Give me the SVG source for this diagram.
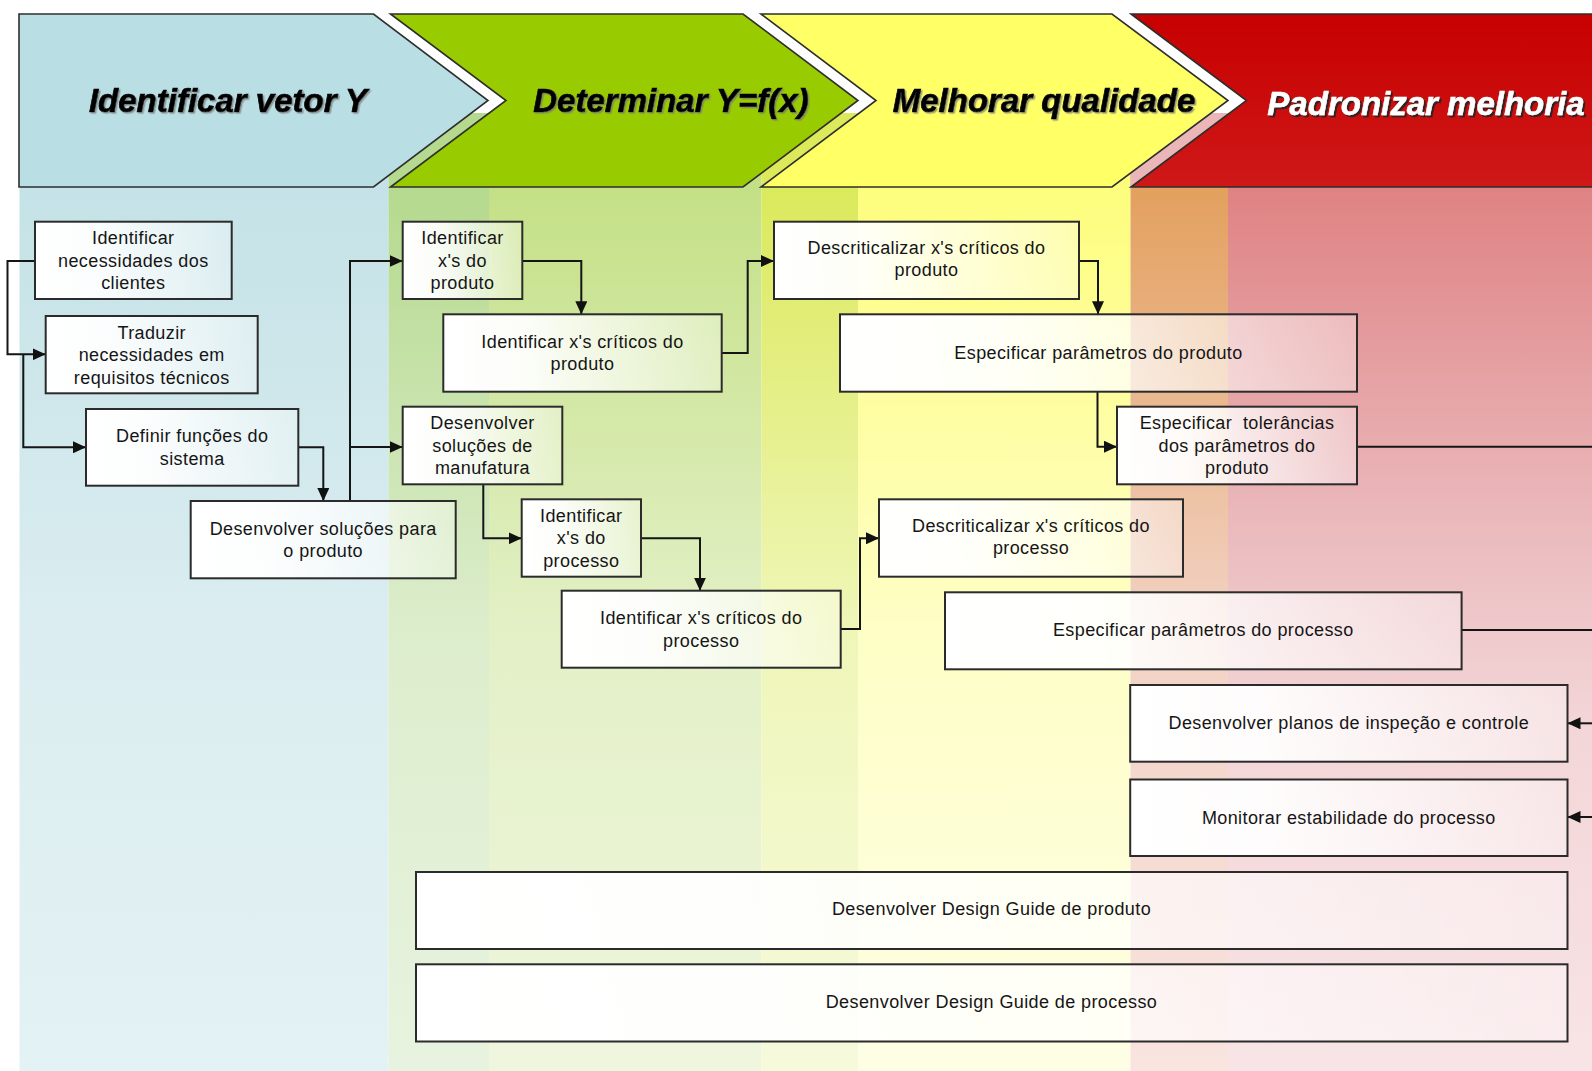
<svg xmlns="http://www.w3.org/2000/svg" width="1592" height="1071" viewBox="0 0 1592 1071">
  <style>
    .node rect { fill: url(#nodeFill); stroke: #2b2b2b; stroke-width: 2; }
    .node text { font-family: "Liberation Sans", Arial, sans-serif; font-size: 18px; letter-spacing: 0.4px; fill: #151515; text-anchor: middle; }
    .conn path { fill: none; stroke: #151515; stroke-width: 2; }
    .arrow { marker-end: url(#arrowHead); }
    .hdr polygon { stroke: #2e2e2e; stroke-width: 1.6; stroke-linejoin: miter; }
    .hdr text { font-family: "Liberation Sans", Arial, sans-serif; font-weight: bold; font-style: italic; font-size: 33px; text-anchor: middle; }
    .dark { fill: #000; stroke: #000; stroke-width: 0.7; filter: url(#lightShadow); }
    .light { fill: #fff; stroke: #fff; stroke-width: 0.5; filter: url(#darkShadow); }
  </style>
  <defs>
    <marker id="arrowHead" markerUnits="userSpaceOnUse" markerWidth="13" markerHeight="12" refX="13" refY="6" orient="auto">
      <path d="M0,0 L13,6 L0,12 z" fill="#111"/>
    </marker>
    <linearGradient id="nodeFill" x1="0" y1="0" x2="1" y2="0">
      <stop offset="0" stop-color="#fff" stop-opacity="1"/>
      <stop offset="0.3" stop-color="#fff" stop-opacity="0.93"/>
      <stop offset="1" stop-color="#fff" stop-opacity="0.35"/>
    </linearGradient>
    <!-- lane background fades, top to bottom -->
    <linearGradient id="laneBlue" gradientUnits="userSpaceOnUse" x1="0" y1="186" x2="0" y2="1071">
      <stop offset="0" stop-color="#c4e2e7"/>
      <stop offset="0.5" stop-color="#dbedf0"/>
      <stop offset="1" stop-color="#e3f2f4"/>
    </linearGradient>
    <linearGradient id="laneGreenA" gradientUnits="userSpaceOnUse" x1="0" y1="186" x2="0" y2="1071">
      <stop offset="0" stop-color="#b5d98e"/>
      <stop offset="0.5" stop-color="#dcedcc"/>
      <stop offset="1" stop-color="#e8f3df"/>
    </linearGradient>
    <linearGradient id="laneGreenB" gradientUnits="userSpaceOnUse" x1="0" y1="186" x2="0" y2="1071">
      <stop offset="0" stop-color="#c4e086"/>
      <stop offset="0.5" stop-color="#e3f0c6"/>
      <stop offset="1" stop-color="#eff6de"/>
    </linearGradient>
    <linearGradient id="laneYellowA" gradientUnits="userSpaceOnUse" x1="0" y1="186" x2="0" y2="1071">
      <stop offset="0" stop-color="#dbe95b"/>
      <stop offset="0.5" stop-color="#eff6b8"/>
      <stop offset="1" stop-color="#f6fadc"/>
    </linearGradient>
    <linearGradient id="laneYellowB" gradientUnits="userSpaceOnUse" x1="0" y1="186" x2="0" y2="1071">
      <stop offset="0" stop-color="#fdfd7d"/>
      <stop offset="0.5" stop-color="#fefec6"/>
      <stop offset="1" stop-color="#fefee5"/>
    </linearGradient>
    <linearGradient id="laneRedA" gradientUnits="userSpaceOnUse" x1="0" y1="186" x2="0" y2="1071">
      <stop offset="0" stop-color="#e3a05e"/>
      <stop offset="0.5" stop-color="#f2d2c4"/>
      <stop offset="1" stop-color="#f9e4e0"/>
    </linearGradient>
    <linearGradient id="laneRedB" gradientUnits="userSpaceOnUse" x1="0" y1="186" x2="0" y2="1071">
      <stop offset="0" stop-color="#df8283"/>
      <stop offset="0.4" stop-color="#ebbcbf"/>
      <stop offset="0.6" stop-color="#f3d5d7"/>
      <stop offset="1" stop-color="#f8e4e6"/>
    </linearGradient>
    <linearGradient id="redHead" x1="0" y1="0" x2="0" y2="1">
      <stop offset="0" stop-color="#c70000"/>
      <stop offset="1" stop-color="#cf1818"/>
    </linearGradient>
    <filter id="lightShadow" x="-5%" y="-20%" width="110%" height="140%">
      <feDropShadow dx="1.5" dy="1.5" stdDeviation="0.6" flood-color="#777" flood-opacity="0.7"/>
    </filter>
    <filter id="darkShadow" x="-5%" y="-20%" width="110%" height="140%">
      <feDropShadow dx="2" dy="2" stdDeviation="0.6" flood-color="#222" flood-opacity="0.9"/>
    </filter>
  </defs>

  <rect width="1592" height="1071" fill="#fff"/>

  <!-- phase lanes -->
  <g id="lanes">
    <rect x="19.5" y="113" width="369" height="958" fill="url(#laneBlue)"/>
    <rect x="388.5" y="113" width="100.5" height="958" fill="url(#laneGreenA)"/>
    <rect x="489" y="113" width="272.5" height="958" fill="url(#laneGreenB)"/>
    <rect x="761.5" y="113" width="96.5" height="958" fill="url(#laneYellowA)"/>
    <rect x="858" y="113" width="272.5" height="958" fill="url(#laneYellowB)"/>
    <rect x="1130.5" y="113" width="97.5" height="958" fill="url(#laneRedA)"/>
    <rect x="1228" y="113" width="364" height="958" fill="url(#laneRedB)"/>
    <!-- paler band seen between the header arrows -->
    <rect x="1130.5" y="113" width="120" height="74" fill="#ebb6b7"/>
  </g>

  <!-- phase header arrows -->
  <g id="header" class="hdr">
    <g id="phase-1">
      <polygon points="19,14 373.5,14 488,100.5 373.5,187 19,187" fill="#b9dfe4"/>
      <text class="dark" x="228" y="112">Identificar vetor Y</text>
    </g>
    <g id="phase-2">
      <polygon points="390.5,14 743,14 858,100.5 743,187 390.5,187 506,100.5" fill="#99cc00"/>
      <text class="dark" x="671" y="112">Determinar Y=f(x)</text>
    </g>
    <g id="phase-3">
      <polygon points="761,14 1112,14 1228,100.5 1112,187 761,187 876,100.5" fill="#ffff66"/>
      <text class="dark" x="1044" y="112">Melhorar qualidade</text>
    </g>
    <g id="phase-4">
      <polygon points="1131,14 1600,14 1600,187 1131,187 1246.5,100.5" fill="url(#redHead)"/>
      <text class="light" x="1426" y="115">Padronizar melhoria</text>
    </g>
  </g>

  <!-- connectors -->
  <g id="connectors" class="conn">
    <path class="arrow" d="M35,261 H7.5 V354.3 H45.7"/>
    <path class="arrow" d="M23.3,354.3 V447.3 H86"/>
    <path class="arrow" d="M298.3,447.3 H323.3 V501"/>
    <path class="arrow" d="M350,501 V261 H402.7"/>
    <path class="arrow" d="M350,447 H402.7"/>
    <path class="arrow" d="M522.3,261 H581.3 V314.3"/>
    <path class="arrow" d="M721.7,353 H747.7 V261 H774"/>
    <path class="arrow" d="M483.3,484.3 V538.3 H521.7"/>
    <path class="arrow" d="M641,538.3 H700 V590.7"/>
    <path class="arrow" d="M840.7,629 H860 V538.3 H879"/>
    <path class="arrow" d="M1079,261 H1098 V314.3"/>
    <path class="arrow" d="M1097.5,391.7 V446.7 H1117"/>
    <path d="M1357,446.7 H1592"/>
    <path d="M1461.6,630 H1592"/>
    <path class="arrow" d="M1592,723.3 H1567.5"/>
    <path class="arrow" d="M1592,817 H1567.5"/>
  </g>

  <!-- activities -->
  <g id="n-identificar-necessidades" class="node">
    <rect x="35" y="221.7" width="196.7" height="77.3"/>
    <text x="133.3" y="244.2">Identificar</text>
    <text x="133.3" y="266.7">necessidades dos</text>
    <text x="133.3" y="289.2">clientes</text>
  </g>
  <g id="n-traduzir" class="node">
    <rect x="45.7" y="316" width="212" height="77.3"/>
    <text x="151.7" y="338.5">Traduzir</text>
    <text x="151.7" y="361">necessidades em</text>
    <text x="151.7" y="383.5">requisitos técnicos</text>
  </g>
  <g id="n-definir-funcoes" class="node">
    <rect x="86" y="409" width="212.3" height="76.7"/>
    <text x="192.2" y="442.3">Definir funções do</text>
    <text x="192.2" y="464.8">sistema</text>
  </g>
  <g id="n-solucoes-produto" class="node">
    <rect x="190.7" y="501" width="265" height="77.3"/>
    <text x="323.2" y="534.7">Desenvolver soluções para</text>
    <text x="323.2" y="557.2">o produto</text>
  </g>
  <g id="n-xs-produto" class="node">
    <rect x="402.7" y="221.7" width="119.6" height="77.3"/>
    <text x="462.5" y="244.2">Identificar</text>
    <text x="462.5" y="266.7">x's do</text>
    <text x="462.5" y="289.2">produto</text>
  </g>
  <g id="n-xs-criticos-produto" class="node">
    <rect x="443.3" y="314.3" width="278.4" height="77.4"/>
    <text x="582.5" y="347.5">Identificar x's críticos do</text>
    <text x="582.5" y="370">produto</text>
  </g>
  <g id="n-solucoes-manufatura" class="node">
    <rect x="402.7" y="406.7" width="159.6" height="77.6"/>
    <text x="482.5" y="429">Desenvolver</text>
    <text x="482.5" y="451.5">soluções de</text>
    <text x="482.5" y="474">manufatura</text>
  </g>
  <g id="n-xs-processo" class="node">
    <rect x="521.7" y="499.3" width="119.3" height="77.4"/>
    <text x="581.3" y="521.5">Identificar</text>
    <text x="581.3" y="544">x's do</text>
    <text x="581.3" y="566.5">processo</text>
  </g>
  <g id="n-xs-criticos-processo" class="node">
    <rect x="561.7" y="590.7" width="279" height="77"/>
    <text x="701.2" y="624.2">Identificar x's críticos do</text>
    <text x="701.2" y="646.7">processo</text>
  </g>
  <g id="n-descriticalizar-produto" class="node">
    <rect x="774" y="221.7" width="305" height="77.3"/>
    <text x="926.5" y="253.5">Descriticalizar x's críticos do</text>
    <text x="926.5" y="276">produto</text>
  </g>
  <g id="n-parametros-produto" class="node">
    <rect x="840" y="314.3" width="517" height="77.4"/>
    <text x="1098.5" y="358.8">Especificar parâmetros do produto</text>
  </g>
  <g id="n-tolerancias" class="node">
    <rect x="1117" y="406.7" width="240" height="77.6"/>
    <text x="1237" y="429" xml:space="preserve">Especificar  tolerâncias</text>
    <text x="1237" y="451.5">dos parâmetros do</text>
    <text x="1237" y="474">produto</text>
  </g>
  <g id="n-descriticalizar-processo" class="node">
    <rect x="879" y="499.3" width="304" height="77.4"/>
    <text x="1031" y="531.5">Descriticalizar x's críticos do</text>
    <text x="1031" y="554">processo</text>
  </g>
  <g id="n-parametros-processo" class="node">
    <rect x="945" y="592.3" width="516.6" height="77"/>
    <text x="1203.3" y="636">Especificar parâmetros do processo</text>
  </g>
  <g id="n-planos-inspecao" class="node">
    <rect x="1130.2" y="685" width="437.3" height="76.7"/>
    <text x="1348.8" y="729.3">Desenvolver planos de inspeção e controle</text>
  </g>
  <g id="n-monitorar" class="node">
    <rect x="1130.2" y="779.5" width="437.3" height="76.5"/>
    <text x="1348.8" y="823.5">Monitorar estabilidade do processo</text>
  </g>
  <g id="n-guide-produto" class="node">
    <rect x="416" y="872" width="1151.5" height="77"/>
    <text x="991.5" y="915">Desenvolver Design Guide de produto</text>
  </g>
  <g id="n-guide-processo" class="node">
    <rect x="416" y="964.3" width="1151.5" height="77.2"/>
    <text x="991.5" y="1008">Desenvolver Design Guide de processo</text>
  </g>
</svg>
